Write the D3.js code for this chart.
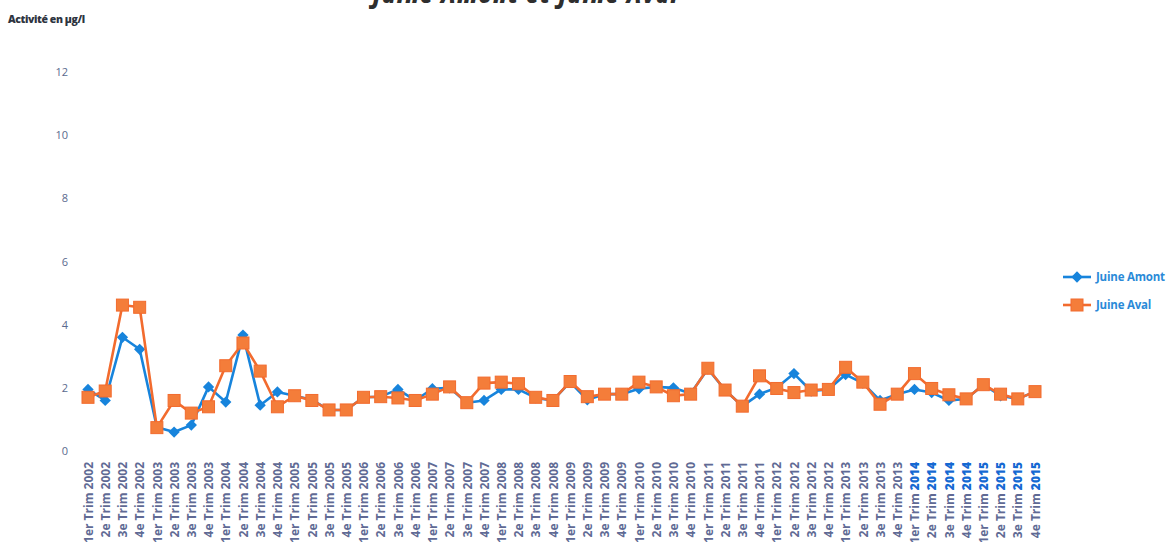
<!DOCTYPE html>
<html>
<head>
<meta charset="utf-8">
<script src="https://cdn.jsdelivr.net/npm/d3@7"></script>
<style>
  html, body { margin: 0; padding: 0; background: #fff; }
  svg { display: block; }
</style>
</head>
<body>
<svg id="chart" width="1172" height="542"></svg>
<script>
// Quarterly measurements, 2002–2015
const categories = [
  "1er Trim 2002","2e Trim 2002","3e Trim 2002","4e Trim 2002",
  "1er Trim 2003","2e Trim 2003","3e Trim 2003","4e Trim 2003",
  "1er Trim 2004","2e Trim 2004","3e Trim 2004","4e Trim 2004",
  "1er Trim 2005","2e Trim 2005","3e Trim 2005","4e Trim 2005",
  "1er Trim 2006","2e Trim 2006","3e Trim 2006","4e Trim 2006",
  "1er Trim 2007","2e Trim 2007","3e Trim 2007","4e Trim 2007",
  "1er Trim 2008","2e Trim 2008","3e Trim 2008","4e Trim 2008",
  "1er Trim 2009","2e Trim 2009","3e Trim 2009","4e Trim 2009",
  "1er Trim 2010","2e Trim 2010","3e Trim 2010","4e Trim 2010",
  "1er Trim 2011","2e Trim 2011","3e Trim 2011","4e Trim 2011",
  "1er Trim 2012","2e Trim 2012","3e Trim 2012","4e Trim 2012",
  "1er Trim 2013","2e Trim 2013","3e Trim 2013","4e Trim 2013",
  "1er Trim 2014","2e Trim 2014","3e Trim 2014","4e Trim 2014",
  "1er Trim 2015","2e Trim 2015","3e Trim 2015","4e Trim 2015"
];

const juineAmont = [
  1.95, 1.6, 3.6, 3.22, 0.75, 0.6, 0.82, 2.03,
  1.55, 3.67, 1.45, 1.87, 1.75, 1.62, 1.3, 1.3,
  1.7, 1.72, 1.95, 1.6, 1.97, 2.0, 1.53, 1.6,
  1.95, 1.95, 1.68, 1.6, 2.18, 1.62, 1.8, 1.8,
  1.97, 2.03, 2.0, 1.82, 2.6, 1.93, 1.42, 1.8,
  2.0, 2.45, 1.9, 1.95, 2.42, 2.15, 1.6, 1.8,
  1.95, 1.85, 1.6, 1.65, 2.1, 1.75, 1.65, 1.88
];

const juineAval = [
  1.7, 1.9, 4.62, 4.55, 0.74, 1.6, 1.2, 1.4,
  2.7, 3.42, 2.53, 1.4, 1.75, 1.6, 1.3, 1.3,
  1.7, 1.72, 1.68, 1.6, 1.8, 2.03, 1.53, 2.15,
  2.18, 2.13, 1.7, 1.6, 2.2, 1.72, 1.8, 1.8,
  2.18, 2.03, 1.75, 1.8, 2.62, 1.93, 1.42, 2.38,
  1.98, 1.85, 1.93, 1.95, 2.65, 2.18, 1.48, 1.8,
  2.45, 1.98, 1.78, 1.65, 2.1, 1.8, 1.65, 1.88
];

const yTicks = [0, 2, 4, 6, 8, 10, 12];

const series = [
  { name: "Juine Amont", values: juineAmont, color: "#1784dc", text: "#2a8ad8", shape: "diamond" },
  { name: "Juine Aval",  values: juineAval,  color: "#f26b2e", text: "#2a8ad8", shape: "square" }
];

const svg = d3.select("#chart");

const x = d3.scalePoint().domain(categories).range([88, 1035]);
const y = d3.scaleLinear().domain([0, 12]).range([451, 72]);

// Title (runs off the top edge)
svg.append("text")
  .attr("x", 525).attr("y", 3)
  .attr("text-anchor", "middle")
  .attr("font-family", "Open Sans, sans-serif")
  .attr("font-weight", 800)
  .attr("font-style", "italic")
  .attr("font-size", 22)
  .attr("textLength", 305)
  .attr("fill", "#2e2e2e")
  .text("Juine Amont et Juine Aval");

// Axis title
svg.append("text")
  .attr("x", 8).attr("y", 23)
  .attr("font-family", "Open Sans, sans-serif")
  .attr("font-weight", 800)
  .attr("font-size", 10.5)
  .attr("letter-spacing", -0.4)
  .attr("fill", "#2e3440")
  .text("Activité en µg/l");

// Y axis (labels only)
const yAxis = d3.axisLeft(y).tickValues(yTicks).tickSize(0).tickPadding(0)
  .tickFormat(d3.format("d"));
const gy = svg.append("g").attr("transform", "translate(68,0)").call(yAxis);
gy.select(".domain").remove();
gy.selectAll("text")
  .attr("font-family", "Open Sans, sans-serif")
  .attr("font-size", 11)
  .attr("fill", "#5a6a8e");

// X axis (rotated category labels)
const xAxis = d3.axisBottom(x).tickSize(0).tickPadding(0).tickFormat("");
const gx = svg.append("g").attr("transform", "translate(0,462)").call(xAxis);
gx.select(".domain").remove();
gx.selectAll(".tick").each(function (d) {
  const idx = d.lastIndexOf(" ");
  const head = d.slice(0, idx + 1);
  const year = d.slice(idx + 1);
  const t = d3.select(this).append("text")
    .attr("transform", "rotate(-90)")
    .attr("x", 0).attr("y", 0)
    .attr("dy", "0.35em")
    .attr("text-anchor", "end")
    .attr("font-family", "Open Sans, sans-serif")
    .attr("font-weight", 700)
    .attr("font-size", 12)
    .attr("fill", "#606a94");
  t.append("tspan").text(head);
  t.append("tspan")
    .attr("fill", +year >= 2014 ? "#1569d2" : "#606a94")
    .attr("font-weight", +year >= 2014 ? 800 : 700)
    .text(year);
});

// Markers
function drawMarker(g, s, cx, cy) {
  if (s.shape === "square") {
    g.append("rect")
      .attr("x", cx - 6).attr("y", cy - 6)
      .attr("width", 12).attr("height", 12)
      .attr("fill", "#f47d3a")
      .attr("stroke", s.color).attr("stroke-width", 1);
  } else {
    g.append("rect")
      .attr("x", -4).attr("y", -4)
      .attr("width", 8).attr("height", 8)
      .attr("transform", `translate(${cx},${cy}) rotate(45)`)
      .attr("fill", s.color);
  }
}

const line = d3.line()
  .x((d, i) => x(categories[i]))
  .y(d => y(d));

series.forEach(s => {
  const g = svg.append("g");
  g.append("path")
    .datum(s.values)
    .attr("d", line)
    .attr("fill", "none")
    .attr("stroke", s.color)
    .attr("stroke-width", 2.6)
    .attr("stroke-linejoin", "round");
  s.values.forEach((v, i) => drawMarker(g, s, x(categories[i]), y(v)));
});

// Legend
const legend = svg.append("g");
series.forEach((s, i) => {
  const ly = 277 + i * 28;
  const g = legend.append("g");
  g.append("line")
    .attr("x1", 1063).attr("x2", 1091)
    .attr("y1", ly).attr("y2", ly)
    .attr("stroke", s.color).attr("stroke-width", 2.6);
  drawMarker(g, s, 1077, ly);
  g.append("text")
    .attr("x", 1096).attr("y", ly)
    .attr("dy", "0.35em")
    .attr("font-family", "Open Sans, sans-serif")
    .attr("font-weight", 700)
    .attr("font-size", 11.5)
    .attr("letter-spacing", -0.2)
    .attr("fill", s.text)
    .text(s.name);
});
</script>
</body>
</html>
